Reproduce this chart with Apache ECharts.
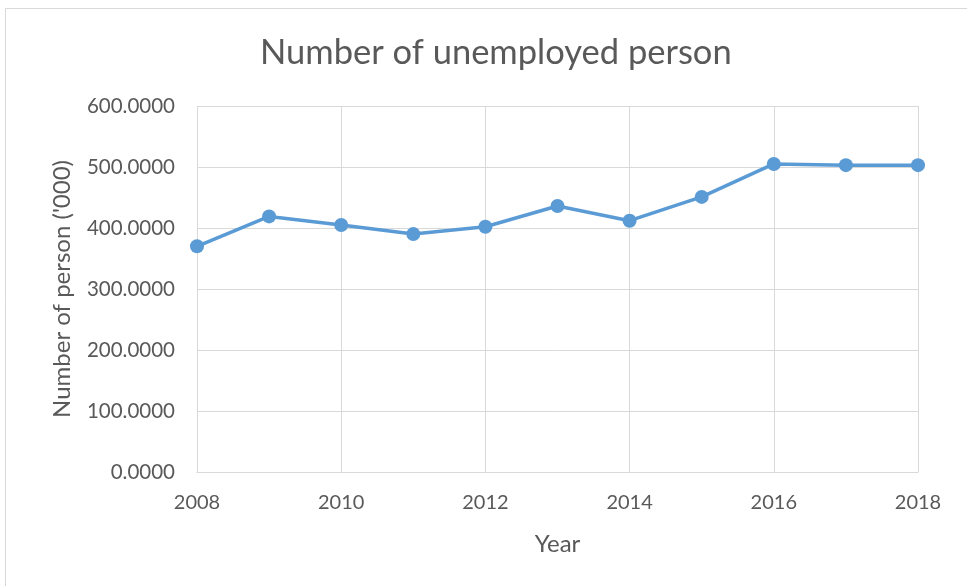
<!DOCTYPE html>
<html>
<head>
<meta charset="utf-8">
<script src="https://cdn.jsdelivr.net/npm/echarts@6/dist/echarts.min.js"></script>
<style>
  html, body { margin: 0; padding: 0; background: #fff; }
  #chart { width: 967px; height: 586px; }
</style>
</head>
<body>
<div id="chart"></div>
<script>
// Unemployed persons ('000) by year
const years = [2008, 2009, 2010, 2011, 2012, 2013, 2014, 2015, 2016, 2017, 2018];
const unemployed = [370, 419, 405, 390, 402, 436, 412, 451, 505, 503, 503];
const yTicks = [0, 100, 200, 300, 400, 500, 600];

const FONT = 'Lato';
const TEXT = '#595959';
const GRID = '#d9d9d9';

const chart = echarts.init(document.getElementById('chart'));
chart.setOption({
  animation: false,
  backgroundColor: '#fff',
  graphic: [{
    type: 'rect',
    shape: { x: 5.5, y: 8.5, width: 1000, height: 700 },
    style: { fill: 'none', stroke: '#d9d9d9', lineWidth: 1 },
    silent: true
  }],
  title: {
    text: 'Number of unemployed person',
    left: 255,
    top: 30,
    textStyle: { fontFamily: FONT, fontSize: 34.5, fontWeight: 'normal', color: TEXT }
  },
  grid: { left: 197, right: 49, top: 106, bottom: 114 },
  xAxis: {
    type: 'value',
    min: years[0],
    max: years[years.length - 1],
    interval: 2,
    name: 'Year',
    nameLocation: 'middle',
    nameGap: 60,
    nameTextStyle: { fontFamily: FONT, fontSize: 24, color: TEXT },
    axisLine: { lineStyle: { color: GRID, width: 1 } },
    axisTick: { show: false },
    axisLabel: {
      fontFamily: FONT, fontSize: 20, color: TEXT, margin: 21,
      formatter: v => String(v)
    },
    splitLine: { show: true, lineStyle: { color: GRID, width: 1 } }
  },
  yAxis: {
    type: 'value',
    min: yTicks[0],
    max: yTicks[yTicks.length - 1],
    interval: 100,
    name: "Number of person ('000)",
    nameLocation: 'middle',
    nameGap: 123,
    nameTextStyle: { fontFamily: FONT, fontSize: 24, color: TEXT },
    axisLine: { show: false },
    axisTick: { show: false },
    axisLabel: {
      fontFamily: FONT, fontSize: 20.5, color: TEXT, margin: 22,
      formatter: v => v.toFixed(4)
    },
    splitLine: { show: true, lineStyle: { color: GRID, width: 1 } }
  },
  series: [{
    type: 'line',
    data: years.map((y, i) => [y, unemployed[i]]),
    symbol: 'circle',
    symbolSize: 14,
    lineStyle: { color: '#5b9bd5', width: 3.5 },
    itemStyle: { color: '#5b9bd5' }
  }]
});
</script>
</body>
</html>
